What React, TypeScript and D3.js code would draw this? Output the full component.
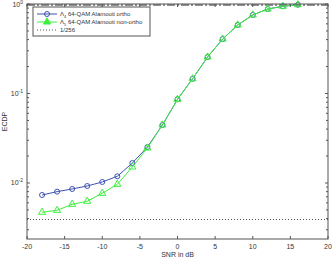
import { useEffect, useRef } from 'react'
import * as d3 from 'd3'

const snr = [-18, -16, -14, -12, -10, -8, -6, -4, -2, 0, 2, 4, 6, 8, 10, 12, 14, 16]
const orthoEcdp = [0.00734, 0.0080, 0.00857, 0.00925, 0.01026, 0.01188, 0.0167, 0.0252, 0.0445, 0.0861, 0.146, 0.256, 0.406, 0.583, 0.754, 0.879, 0.943, 0.982]
const nonOrthoEcdp = [0.00471, 0.00495, 0.00578, 0.00625, 0.00767, 0.00967, 0.0151, 0.0246, 0.0445, 0.0861, 0.146, 0.256, 0.406, 0.583, 0.754, 0.879, 0.943, 0.982]
const xTicks = [-20, -15, -10, -5, 0, 5, 10, 15, 20]
const yDecades = [0, -1, -2]
const floorLevel = 1 / 256
const upperLevel = 1

export default function App() {
  const svgRef = useRef<SVGSVGElement>(null)

  useEffect(() => {
    document.body.style.margin = '0'
    if (!svgRef.current) return
    const width = 332
    const height = 259
    const margin = { top: 4, right: 4, bottom: 20, left: 27 }
    const w = width - margin.left - margin.right
    const h = height - margin.top - margin.bottom
    const font = 'Liberation Sans, Arial, sans-serif'
    const axisColor = '#555'
    const textColor = '#333'
    const blue = '#3f52b0'
    const green = '#3ef03e'

    d3.select(svgRef.current).selectAll('*').remove()
    const svg = d3.select(svgRef.current)
      .append('g')
      .attr('transform', `translate(${margin.left},${margin.top})`)

    const x = d3.scaleLinear().domain([-20, 20]).range([0, w])
    const y = d3.scaleLog().domain([Math.pow(10, -2.626), 1]).range([h, 0])

    // 1/256 reference
    svg.append('line')
      .attr('x1', 0).attr('x2', w)
      .attr('y1', y(floorLevel)).attr('y2', y(floorLevel))
      .attr('stroke', '#555').attr('stroke-width', 1)
      .attr('stroke-dasharray', '1,2')

    // upper bound at 1
    svg.append('line')
      .attr('x1', 0).attr('x2', w)
      .attr('y1', y(upperLevel) + 1).attr('y2', y(upperLevel) + 1)
      .attr('stroke', '#222').attr('stroke-width', 1)
      .attr('stroke-dasharray', '8,2,2,2')

    const line = d3.line<number>()
      .x((_, i) => x(snr[i]))
      .y(d => y(d))

    svg.append('path')
      .datum(orthoEcdp)
      .attr('fill', 'none')
      .attr('stroke', blue)
      .attr('stroke-width', 1)
      .attr('d', line)

    svg.selectAll('.circ')
      .data(orthoEcdp)
      .enter().append('circle')
      .attr('cx', (_, i) => x(snr[i]))
      .attr('cy', d => y(d))
      .attr('r', 2.5)
      .attr('fill', 'none')
      .attr('stroke', blue)
      .attr('stroke-width', 1)

    svg.append('path')
      .datum(nonOrthoEcdp)
      .attr('fill', 'none')
      .attr('stroke', green)
      .attr('stroke-width', 1)
      .attr('d', line)

    const tri = d3.symbol().type(d3.symbolTriangle).size(22)
    svg.selectAll('.tri')
      .data(nonOrthoEcdp)
      .enter().append('path')
      .attr('d', tri)
      .attr('transform', (d, i) => `translate(${x(snr[i])},${y(d)})`)
      .attr('fill', 'none')
      .attr('stroke', green)
      .attr('stroke-width', 1)

    // box
    svg.append('rect')
      .attr('x', 0).attr('y', 0).attr('width', w).attr('height', h)
      .attr('fill', 'none').attr('stroke', axisColor).attr('stroke-width', 1)

    // x ticks (inward, top and bottom)
    xTicks.forEach(t => {
      svg.append('line').attr('x1', x(t)).attr('x2', x(t)).attr('y1', h).attr('y2', h - 3).attr('stroke', axisColor)
      svg.append('line').attr('x1', x(t)).attr('x2', x(t)).attr('y1', 0).attr('y2', 3).attr('stroke', axisColor)
      svg.append('text')
        .attr('x', x(t)).attr('y', h + 10)
        .attr('text-anchor', 'middle')
        .attr('font-family', font).attr('font-size', 7)
        .attr('fill', textColor)
        .text(t)
    })

    // y ticks, major + minor
    yDecades.forEach(p => {
      const v = Math.pow(10, p)
      svg.append('line').attr('x1', 0).attr('x2', 3).attr('y1', y(v)).attr('y2', y(v)).attr('stroke', axisColor)
      svg.append('line').attr('x1', w).attr('x2', w - 3).attr('y1', y(v)).attr('y2', y(v)).attr('stroke', axisColor)
      const label = svg.append('text')
        .attr('x', -4).attr('y', y(v) + 2.5)
        .attr('text-anchor', 'end')
        .attr('font-family', font).attr('font-size', 7)
        .attr('fill', textColor)
      label.append('tspan').text('10')
      label.append('tspan').attr('dy', -3).attr('font-size', 5).text(String(p))
      for (let k = 2; k <= 9; k++) {
        const mv = k * Math.pow(10, p - 1)
        if (mv < y.domain()[0]) continue
        svg.append('line').attr('x1', 0).attr('x2', 2).attr('y1', y(mv)).attr('y2', y(mv)).attr('stroke', axisColor)
        svg.append('line').attr('x1', w).attr('x2', w - 2).attr('y1', y(mv)).attr('y2', y(mv)).attr('stroke', axisColor)
      }
    })

    svg.append('text')
      .attr('x', w / 2).attr('y', h + 18)
      .attr('text-anchor', 'middle')
      .attr('font-family', font).attr('font-size', 7)
      .attr('fill', textColor)
      .text('SNR in dB')

    svg.append('text')
      .attr('transform', `translate(${-20},${h / 2}) rotate(-90)`)
      .attr('text-anchor', 'middle')
      .attr('font-family', font).attr('font-size', 7)
      .attr('fill', textColor)
      .text('ECDP')

    // legend
    const lg = svg.append('g').attr('transform', 'translate(6,3)')
    lg.append('rect')
      .attr('x', 0).attr('y', 0).attr('width', 117).attr('height', 29)
      .attr('fill', '#fff').attr('stroke', axisColor).attr('stroke-width', 1)

    const entries = [
      { sym: 'Λ', sub: '4', label: ' 64-QAM Alamouti ortho', color: blue, marker: 'circle' },
      { sym: 'Λ', sub: '5', label: ' 64-QAM Alamouti non-ortho', color: green, marker: 'tri' },
      { sym: '', sub: '', label: '1/256', color: '#555', marker: 'dot' }
    ]
    entries.forEach((e, i) => {
      const ly = 7 + i * 8
      const ln = lg.append('line')
        .attr('x1', 4).attr('x2', 24).attr('y1', ly).attr('y2', ly)
        .attr('stroke', e.color).attr('stroke-width', 1)
      if (e.marker === 'dot') ln.attr('stroke-dasharray', '1,2')
      if (e.marker === 'circle') {
        lg.append('circle').attr('cx', 14).attr('cy', ly).attr('r', 2.5)
          .attr('fill', 'none').attr('stroke', e.color)
      }
      if (e.marker === 'tri') {
        lg.append('path').attr('d', tri).attr('transform', `translate(14,${ly})`)
          .attr('fill', e.color).attr('stroke', e.color)
      }
      const t = lg.append('text')
        .attr('x', 27).attr('y', ly + 2.3)
        .attr('font-family', font).attr('font-size', 6)
        .attr('fill', textColor)
      if (e.sym) {
        t.append('tspan').text(e.sym)
        t.append('tspan').attr('dy', 1.5).attr('font-size', 4).text(e.sub)
        t.append('tspan').attr('dy', -1.5).text(e.label)
      } else {
        t.text(e.label)
      }
    })
  }, [])

  return <svg ref={svgRef} width={332} height={259} style={{ display: 'block' }} />
}
